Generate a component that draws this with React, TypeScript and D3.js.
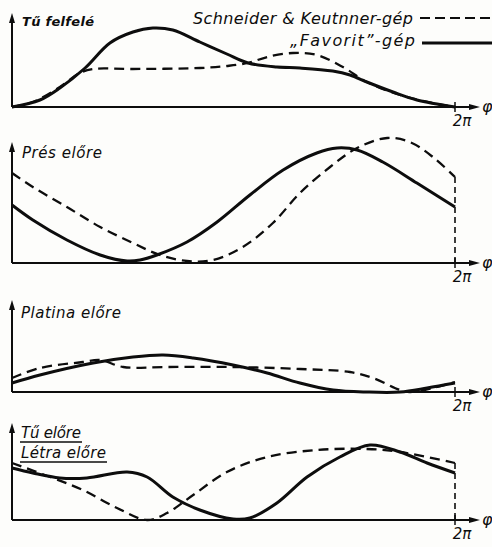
import React from 'react';
import * as d3 from 'd3';

// phase as a fraction of one turn (0 .. 2π), values as motion height (arbitrary units)
const tuPhiSchneider = [0, 0.047, 0.108, 0.153, 0.183, 0.273, 0.424, 0.485, 0.533, 0.576, 0.634, 0.688, 0.747, 0.801, 0.876, 0.95, 1];
const tuValSchneider = [0, 5, 20, 34, 38, 38, 39, 41, 44, 50, 54, 52, 40, 25, 12, 4, 0];
const tuPhiFavorit = [0, 0.063, 0.108, 0.165, 0.221, 0.273, 0.318, 0.363, 0.424, 0.485, 0.533, 0.598, 0.65, 0.724, 0.763, 0.801, 0.86, 0.914, 1];
const tuValFavorit = [0, 7, 19, 39, 64, 75, 79, 77, 65, 53, 44, 40, 39, 36, 32, 25, 15, 7, 0];

const presPhiSchneider = [0, 0.047, 0.124, 0.199, 0.273, 0.334, 0.395, 0.454, 0.521, 0.589, 0.65, 0.718, 0.779, 0.847, 0.898, 0.95, 1];
const presValSchneider = [90, 76, 56, 36, 20, 8, 2, 3, 16, 40, 70, 96, 115, 125, 121, 106, 86];
const presPhiFavorit = [0, 0.047, 0.124, 0.199, 0.26, 0.289, 0.327, 0.395, 0.463, 0.537, 0.612, 0.688, 0.734, 0.779, 0.837, 0.914, 1];
const presValFavorit = [58, 43, 23, 8, 2, 3, 8, 21, 41, 68, 93, 110, 115, 113, 101, 80, 56];

const platPhiSchneider = [0, 0.063, 0.16, 0.199, 0.251, 0.35, 0.499, 0.65, 0.763, 0.815, 0.876, 0.898, 0.95, 1];
const platValSchneider = [14, 24, 30, 32, 25, 25, 25, 23, 20, 14, 2, 0, 4, 10];
const platPhiFavorit = [0, 0.063, 0.183, 0.273, 0.341, 0.409, 0.499, 0.576, 0.65, 0.725, 0.801, 0.876, 0.937, 1];
const platValFavorit = [9, 17, 29, 35, 37, 34, 27, 19, 9, 2, 0, 0, 4, 9];

const letraPhi = [0, 0.086, 0.16, 0.237, 0.305, 0.35, 0.409, 0.485, 0.576, 0.688, 0.801, 0.876, 1];
const letraVal = [57, 43, 30, 12, 0, 7, 25, 48, 63, 70, 71, 68, 57];
const tuElorePhi = [0, 0.047, 0.108, 0.169, 0.26, 0.305, 0.363, 0.424, 0.499, 0.537, 0.598, 0.666, 0.74, 0.808, 0.876, 0.937, 1];
const tuEloreVal = [52, 47, 42, 42, 48, 43, 23, 10, 1, 2, 17, 43, 63, 75, 68, 57, 47];

const legendLabels = ['Schneider & Keutnner-gép', '„Favorit”-gép'];
const xTickLabel = '2π';

const zip = (p: number[], v: number[]) => p.map((t, i) => ({ t, v: v[i] }));

const panels = [
  { base: 107, top: 13, dashed: zip(tuPhiSchneider, tuValSchneider), solid: zip(tuPhiFavorit, tuValFavorit), endLine: false },
  { base: 263, top: 142, dashed: zip(presPhiSchneider, presValSchneider), solid: zip(presPhiFavorit, presValFavorit), endLine: true },
  { base: 392, top: 300, dashed: zip(platPhiSchneider, platValSchneider), solid: zip(platPhiFavorit, platValFavorit), endLine: false },
  { base: 520, top: 423, dashed: zip(letraPhi, letraVal), solid: zip(tuElorePhi, tuEloreVal), endLine: true },
];

const ink = '#0d0d0d';
const font = '"DejaVu Sans", sans-serif';

export default function App() {
  const x = d3.scaleLinear().domain([0, 1]).range([12, 455]);

  return (
    <svg width={492} height={547} style={{ position: 'fixed', left: 0, top: 0, background: '#fdfdfb' }}>
      <rect width={492} height={547} fill="#fdfdfb" />
      {panels.map((p, i) => {
        const y = d3.scaleLinear().domain([0, 100]).range([p.base, p.base - 100]);
        const line = d3.line<{ t: number; v: number }>()
          .x(d => x(d.t))
          .y(d => y(d.v))
          .curve(d3.curveCatmullRom.alpha(0.5));
        const last = p.dashed[p.dashed.length - 1];
        return (
          <g key={i}>
            {/* axes */}
            <line x1={x(0)} y1={p.base} x2={x(0)} y2={p.top + 6} stroke={ink} strokeWidth={2} />
            <path d={`M${x(0) - 3},${p.top + 10}L${x(0)},${p.top}L${x(0) + 3},${p.top + 10}Z`} fill={ink} />
            <line x1={x(0)} y1={p.base} x2={474} y2={p.base} stroke={ink} strokeWidth={2} />
            <path d={`M469,${p.base - 3}L480,${p.base}L469,${p.base + 3}Z`} fill={ink} />
            <line x1={x(1)} y1={p.base - 5} x2={x(1)} y2={p.base + 5} stroke={ink} strokeWidth={1.5} />
            <text x={x(1) + 7} y={p.base + 19} fontFamily={font} fontStyle="italic" fontSize={15} textAnchor="middle" fill={ink}>{xTickLabel}</text>
            <text x={482} y={p.base + 5} fontFamily={font} fontStyle="italic" fontSize={16} fill={ink}>φ</text>
            {p.endLine && (
              <line x1={x(1)} y1={y(last.v)} x2={x(1)} y2={p.base} stroke={ink} strokeWidth={1.6} strokeDasharray="6,4" />
            )}
            {/* curves */}
            <path d={line(p.dashed) ?? ''} fill="none" stroke={ink} strokeWidth={2.3} strokeDasharray="10,6" />
            <path d={line(p.solid) ?? ''} fill="none" stroke={ink} strokeWidth={3} />
          </g>
        );
      })}

      {/* panel titles */}
      <text x={22} y={26} fontFamily={font} fontStyle="italic" fontWeight="bold" fontSize={13} textLength={72} fill={ink}>Tű felfelé</text>
      <text x={22} y={158} fontFamily={font} fontStyle="italic" fontSize={15} textLength={80} fill={ink}>Prés előre</text>
      <text x={21} y={318} fontFamily={font} fontStyle="italic" fontSize={15} textLength={100} fill={ink}>Platina előre</text>
      <text x={21} y={438} fontFamily={font} fontStyle="italic" fontSize={15} textLength={60} fill={ink}>Tű előre</text>
      <line x1={20} y1={442} x2={82} y2={442} stroke={ink} strokeWidth={1.3} />
      <text x={21} y={458} fontFamily={font} fontStyle="italic" fontSize={15} textLength={85} fill={ink}>Létra előre</text>
      <line x1={20} y1={462} x2={107} y2={462} stroke={ink} strokeWidth={1.3} />

      {/* legend */}
      <text x={193} y={24} fontFamily={font} fontStyle="italic" fontSize={16} textLength={220} fill={ink}>{legendLabels[0]}</text>
      <line x1={420} y1={18} x2={492} y2={18} stroke={ink} strokeWidth={2.2} strokeDasharray="10,5" />
      <text x={290} y={46} fontFamily={font} fontStyle="italic" fontSize={16} textLength={125} fill={ink}>{legendLabels[1]}</text>
      <line x1={422} y1={43} x2={492} y2={43} stroke={ink} strokeWidth={3} />
    </svg>
  );
}
